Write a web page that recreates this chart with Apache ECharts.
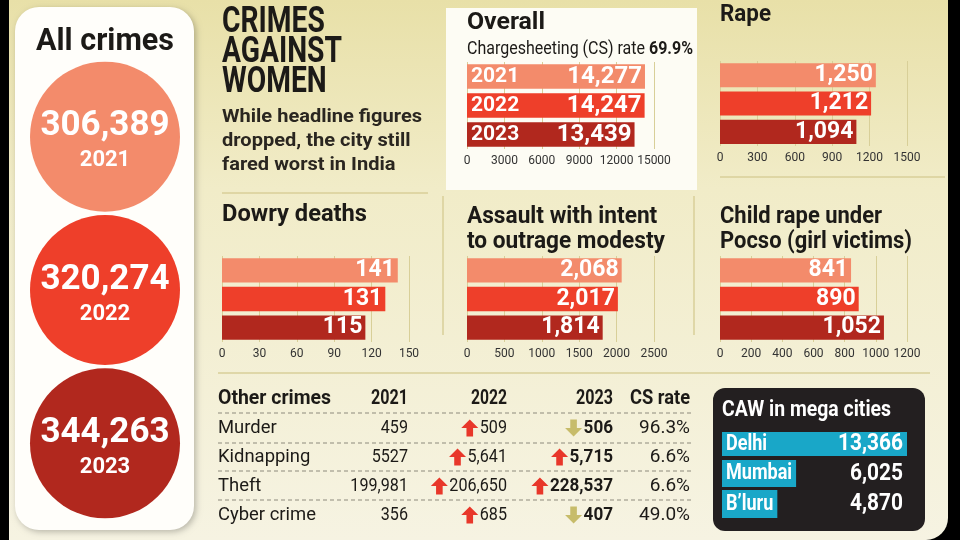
<!DOCTYPE html>
<html><head><meta charset="utf-8">
<script src="https://cdn.jsdelivr.net/npm/echarts@6/dist/echarts.min.js"></script>
<style>html,body{margin:0;padding:0;background:#000;}#c{width:960px;height:540px;}</style>
</head><body><div id="c"></div>
<script>
// ---------- data ----------
const years = ['2021', '2022', '2023'];
const allCrimes = [306389, 320274, 344263];
const overall = [14277, 14247, 13439];
const overallCSRate = '69.9%';
const rape = [1250, 1212, 1094];
const dowry = [141, 131, 115];
const assault = [2068, 2017, 1814];
const childRape = [841, 890, 1052];
const otherCrimes = ['Murder', 'Kidnapping', 'Theft', 'Cyber crime'];
const other2021 = ['459', '5527', '199,981', '356'];
const other2022 = [509, 5641, 206650, 685];
const other2023 = [506, 5715, 228537, 407];
const csRate = ['96.3%', '6.6%', '6.6%', '49.0%'];
const tableHeader = ['Other crimes', '2021', '2022', '2023', 'CS rate'];
const cities = ['Delhi', 'Mumbai', 'B\u2019luru'];
const cawValues = [13366, 6025, 4870];

// ---------- style ----------
const F = "Roboto, 'Liberation Sans', sans-serif";
const yearColors = ['#f38b6b', '#ee3f2a', '#b1281e'];
const tan = '#d8cf98';
const ink = '#1c1a17';
const fmt = v => v.toLocaleString('en-US');
const mctx = document.createElement('canvas').getContext('2d');
function tw(text, size, weight) { mctx.font = (weight || 'normal') + ' ' + size + 'px ' + F; return mctx.measureText(text).width; }

const chart = echarts.init(document.getElementById('c'), null, {renderer: 'canvas'});
const grids = [], xAxes = [], yAxes = [], series = [];

// circles (All crimes)
grids.push({left: 30, width: 150, top: 60, height: 460});
xAxes.push({gridIndex: 0, type: 'category', data: ['All'], show: false});
yAxes.push({gridIndex: 0, type: 'category', data: years, inverse: true, show: false});
series.push({
  type: 'scatter', xAxisIndex: 0, yAxisIndex: 0, symbol: 'circle', symbolSize: 150,
  data: allCrimes.map((v, i) => ({value: ['All', years[i]], raw: v, itemStyle: {color: yearColors[i], opacity: 1}})),
  label: {show: true, position: 'inside', offset: [0, 5],
    formatter: p => '{v|' + fmt(p.data.raw) + '}\n{y|' + years[p.dataIndex] + '}',
    rich: {v: {fontFamily: F, fontSize: 35, fontWeight: 'bold', color: '#fff', lineHeight: 38},
           y: {fontFamily: F, fontSize: 22, fontWeight: 'bold', color: '#fff', lineHeight: 30}}},
  silent: true, z: 5
});

function barPanel(data, max, interval, left, top, height, valSize, showYear) {
  const gi = grids.length;
  grids.push({left: left, width: 187, top: top, height: height});
  xAxes.push({gridIndex: gi, type: 'value', min: 0, max: max, interval: interval,
    axisLine: {show: false}, axisTick: {show: false},
    splitLine: {show: true, lineStyle: {color: tan, width: 1}},
    axisLabel: {fontFamily: F, fontSize: 12, color: '#333', margin: 6, formatter: v => String(v)}});
  yAxes.push({gridIndex: gi, type: 'category', data: years, inverse: true, show: false});
  series.push({type: 'bar', xAxisIndex: gi, yAxisIndex: gi, barWidth: '85%',
    data: data.map((v, i) => ({value: v, itemStyle: {color: yearColors[i]}})),
    label: {show: true, position: 'insideRight', distance: 3, color: '#fff', fontFamily: F,
      fontWeight: 'bold', fontSize: valSize, formatter: p => fmt(p.value)}, silent: true});
  if (showYear) {
    series.push({type: 'bar', xAxisIndex: gi, yAxisIndex: gi, barWidth: '85%', barGap: '-100%',
      data: data.map(v => ({value: v, itemStyle: {color: 'rgba(0,0,0,0)'}})),
      label: {show: true, position: 'insideLeft', distance: 4, color: '#fff', fontFamily: F,
        fontWeight: 'bold', fontSize: 21, formatter: p => years[p.dataIndex]}, silent: true, z: 3});
  }
}
barPanel(overall, 15000, 3000, 467, 62, 87, 24, true);
barPanel(rape, 1500, 300, 720, 61, 85, 23, false);
barPanel(dowry, 150, 30, 222, 256, 86, 23, false);
barPanel(assault, 2500, 500, 467, 256, 86, 23, false);
barPanel(childRape, 1200, 200, 720, 256, 86, 23, false);

// ---------- graphics ----------
const g = [];
function txt(x, y, text, size, weight, opts) {
  opts = opts || {};
  let sx = opts.sx || 1;
  if (opts.w) {
    const mw = Math.max.apply(null, text.split('\n').map(s => tw(s, size, weight)));
    sx = opts.w / mw;
  }
  g.push({type: 'text', x: x, y: y, scaleX: sx, z: opts.z || 10, style: {text: text, fontFamily: F, fontSize: size,
    fontWeight: weight || 'normal', fill: opts.fill || ink, align: opts.align || 'left',
    verticalAlign: opts.va || 'middle', lineHeight: opts.lh}});
  return sx;
}
// background
g.push({type: 'rect', z: -10, shape: {x: 9, y: 0, width: 939, height: 540, r: [0, 0, 22, 0]},
  style: {fill: {type: 'linear', x: 0, y: 0, x2: 0, y2: 1, colorStops: [
    {offset: 0, color: '#e8e0a8'}, {offset: 0.35, color: '#f1ecc8'}, {offset: 1, color: '#f6f3e2'}]}}});
g.push({type: 'rect', z: -5, shape: {x: 15, y: 7, width: 179, height: 523, r: 24},
  style: {fill: '#fffefa', shadowBlur: 6, shadowColor: 'rgba(0,0,0,0.25)', shadowOffsetX: 2, shadowOffsetY: 2}});
g.push({type: 'rect', z: -5, shape: {x: 446, y: 8, width: 251, height: 182}, style: {fill: '#fdfcf4'}});
const lines = [[222, 193, 428, 193], [720, 177, 945, 177], [443, 196, 443, 335], [694, 196, 694, 335], [218, 373, 930, 373]];
lines.forEach(l => g.push({type: 'line', z: -4, shape: {x1: l[0], y1: l[1], x2: l[2], y2: l[3]}, style: {stroke: tan, lineWidth: 1.5}}));

txt(36, 42, 'All crimes', 31, 'bold', {w: 138});
txt(222, 53, 'CRIMES\nAGAINST\nWOMEN', 36, 'bold', {lh: 30, w: 120});
txt(222, 141, 'While headline figures\ndropped, the city still\nfared worst in India', 19, 'bold', {lh: 24, fill: '#2a2620', w: 200});
txt(467, 23, 'Overall', 24, 'bold', {w: 78});
(function () {
  const a = 'Chargesheeting (CS) rate ', b = overallCSRate;
  const wa = tw(a, 18), wb = tw(b, 18, 'bold');
  const sx = 226 / (wa + wb);
  g.push({type: 'text', x: 467, y: 49, scaleX: sx, z: 10, style: {text: '{a|' + a + '}{b|' + b + '}',
    verticalAlign: 'middle', rich: {a: {fontFamily: F, fontSize: 18, fill: ink}, b: {fontFamily: F, fontSize: 18, fontWeight: 'bold', fill: ink}}}});
})();
txt(720, 15, 'Rape', 24, 'bold', {w: 51});
txt(222, 215, 'Dowry deaths', 24, 'bold', {w: 145});
txt(467, 229, 'Assault with intent\nto outrage modesty', 24, 'bold', {lh: 25, w: 198});
txt(720, 229, 'Child rape under\nPocso (girl victims)', 24, 'bold', {lh: 25, w: 192});

// table
const NS = 0.85, LS = 0.97, BS = 0.9;
const colX = [218, 408, 507, 613, 690];
const headY = 399, rowY = [428, 457, 486, 515], dashY = [413, 443, 471, 500];
const headW = [113, 37, 36, 37, 60];
tableHeader.forEach((h, i) => txt(colX[i], headY, h, 20, 'bold', {align: i === 0 ? 'left' : 'right', w: headW[i]}));
dashY.forEach(y => g.push({type: 'line', z: 2, shape: {x1: 218, y1: y, x2: 692, y2: y}, style: {stroke: '#8d8a7c', lineWidth: 1, lineDash: [4, 3]}}));
function arrow(cx, cy, up, color) {
  const s = up ? 1 : -1, t = cy - 8.5 * s;
  const pts = [[cx, t], [cx + 8.5, t + 8.5 * s], [cx + 3.3, t + 8.5 * s], [cx + 3.3, t + 17 * s], [cx - 3.3, t + 17 * s], [cx - 3.3, t + 8.5 * s], [cx - 8.5, t + 8.5 * s]];
  g.push({type: 'polygon', z: 10, shape: {points: pts}, style: {fill: color}});
}
const upC = '#e8372a', downC = '#c7bc6a';
otherCrimes.forEach((name, i) => {
  const y = rowY[i];
  txt(colX[0], y, name, 19, 'normal', {sx: LS});
  txt(colX[1], y, other2021[i], 19, 'normal', {align: 'right', sx: NS});
  const prev = parseInt(other2021[i].replace(/,/g, ''), 10);
  const s22 = fmt(other2022[i]);
  txt(colX[2], y, s22, 19, 'normal', {align: 'right', sx: NS});
  const up22 = other2022[i] > prev;
  arrow(colX[2] - tw(s22, 19) * NS - 10, y, up22, up22 ? upC : downC);
  const s23 = fmt(other2023[i]);
  txt(colX[3], y, s23, 19, 'bold', {align: 'right', sx: BS});
  const up23 = other2023[i] > other2022[i];
  arrow(colX[3] - tw(s23, 19, 'bold') * BS - 10, y, up23, up23 ? upC : downC);
  txt(colX[4], y, csRate[i], 19, 'normal', {align: 'right', sx: 1.0});
});

// CAW box
g.push({type: 'rect', z: 1, shape: {x: 713, y: 388, width: 212, height: 143, r: 12}, style: {fill: '#231f20'}});
txt(722, 410, 'CAW in mega cities', 22, 'bold', {fill: '#fff', w: 169});
const cawY = [[432, 24], [460, 27], [490, 28]];
const CS = 0.82;
cities.forEach((c, i) => {
  const w = i === 0 ? 185 : tw(c, 22, 'bold') * CS + 8;
  g.push({type: 'rect', z: 2, shape: {x: 722, y: cawY[i][0], width: w, height: cawY[i][1]}, style: {fill: '#19a7c8'}});
  const cy = cawY[i][0] + cawY[i][1] / 2;
  txt(726, cy, c, 22, 'bold', {fill: '#fff', sx: CS});
  txt(903, cy, fmt(cawValues[i]), 24, 'bold', {fill: '#fff', align: 'right', sx: 0.87});
});

chart.setOption({
  animation: false,
  backgroundColor: '#000',
  grid: grids, xAxis: xAxes, yAxis: yAxes, series: series,
  graphic: {elements: g}
});
</script></body></html>
